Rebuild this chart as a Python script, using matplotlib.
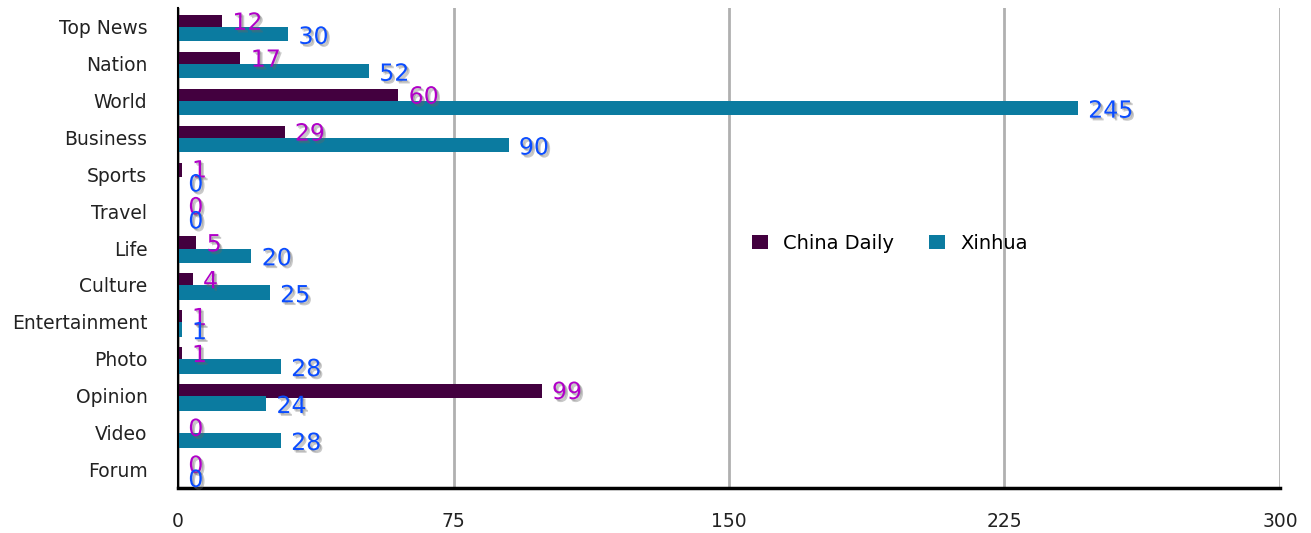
import numpy as np
import matplotlib
matplotlib.use("Agg")
import matplotlib.pyplot as plt
import matplotlib.patheffects as pe

categories = ["Top News", "Nation", "World", "Business", "Sports", "Travel", "Life",
              "Culture", "Entertainment", "Photo", "Opinion", "Video", "Forum"]
china_daily = [12, 17, 60, 29, 1, 0, 5, 4, 1, 1, 99, 0, 0]
xinhua = [30, 52, 245, 90, 0, 0, 20, 25, 1, 28, 24, 28, 0]
xticks = [0, 75, 150, 225, 300]

c_cd = "#43003f"
c_xh = "#0b7ba0"
lab_cd = "#b000c8"
lab_xh = "#0a4cff"

fig = plt.figure(figsize=(13.11, 5.33), dpi=100)
ax = fig.add_axes([0.1358, 0.0844, 0.8405, 0.9006])

y = np.arange(len(categories))
h = 0.39
ax.barh(y - 0.12, china_daily, height=h, color=c_cd, label="China Daily", zorder=3)
ax.barh(y + 0.21, xinhua, height=h, color=c_xh, label="Xinhua", zorder=3)

shadow = [pe.SimplePatchShadow(offset=(2, -2), shadow_rgbFace="#666666", alpha=0.35),
          pe.SimplePatchShadow(offset=(1, -1), shadow_rgbFace="#666666", alpha=0.35),
          pe.Normal()]
for i in range(len(categories)):
    ax.text(china_daily[i] + 2.8, y[i] - 0.1, str(china_daily[i]), color=lab_cd,
            fontsize=17, va="center", ha="left", zorder=5, path_effects=shadow)
    ax.text(xinhua[i] + 2.8, y[i] + 0.28, str(xinhua[i]), color=lab_xh,
            fontsize=17, va="center", ha="left", zorder=5, path_effects=shadow)

ax.set_xlim(0, 300)
ax.set_ylim(len(categories) - 0.5, -0.5)
ax.set_xticks(xticks)
ax.set_xticklabels([str(t) for t in xticks])
ax.set_yticks(y)
ax.set_yticklabels(categories)
ax.tick_params(axis="both", length=0, labelsize=13.5, colors="#222222")
ax.tick_params(axis="y", pad=22)
ax.tick_params(axis="x", pad=17)

ax.grid(axis="x", color="#b0b0b0", linewidth=2, zorder=0)
for s in ["top", "right"]:
    ax.spines[s].set_visible(False)
ax.spines["left"].set_linewidth(1.5)
ax.spines["bottom"].set_linewidth(2.5)
ax.spines["left"].set_zorder(4)

ax.legend(loc="center", bbox_to_anchor=(0.646, 0.51), ncol=2, frameon=False,
          fontsize=14, handlelength=0.8, handleheight=0.8, columnspacing=1.8)

fig.savefig("out.png", dpi=100)
